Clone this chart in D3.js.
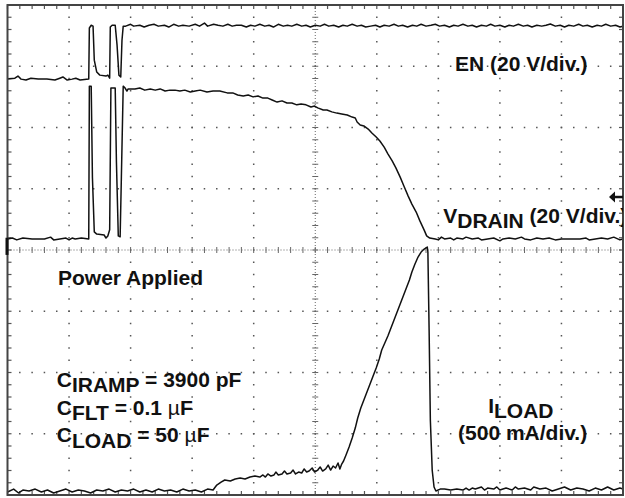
<!DOCTYPE html>
<html>
<head>
<meta charset="utf-8">
<script src="https://cdn.jsdelivr.net/npm/d3@7"></script>
<style>
  body { margin: 0; background: #fff; }
  svg text { font-family: "Liberation Sans", Arial, sans-serif; font-weight: bold; font-size: 21px; fill: #111; }
</style>
</head>
<body>
<div id="chart"></div>
<script>

  // scope traces, time in divisions, values in channel units
  var enTrace = [[0,0],[0.12,0.3],[0.17,1.0],[0.22,0],[0.30,-0.3],[0.38,0.3],[0.50,0],[0.64,0],[0.77,-0.3],
                 [0.85,0.3],[0.90,0.7],[0.97,-0.3],[1.05,0],[1.11,0.3],[1.18,-0.3],[1.32,0],
                 [1.33,16.7],[1.36,17.6],[1.39,17.3],[1.41,6.2],[1.45,2.3],[1.50,1.3],[1.60,1.0],[1.63,1.3],[1.66,0.3],
                 [1.67,17.0],[1.70,17.6],[1.75,17.6],[1.78,11.1],[1.81,1.3],[1.84,0.7],[1.86,12.7],[1.88,17.3],
                 [1.92,17.3],[2.00,17.9],[2.05,17.3],[2.15,17.6],[2.22,17.0],[2.30,17.6],[2.38,17.9],[2.45,17.3],
                 [2.55,17.6],[2.62,17.0],[2.70,17.9],[2.78,17.3],[2.85,17.6],[2.95,17.3],[3.05,17.9],[3.12,17.3],
                 [3.20,18.3],[3.25,17.3],[3.35,17.9],[3.42,17.6],[3.50,17.3],[3.58,17.9],[3.65,17.3],[3.72,17.6],
                 [3.80,17.6],[3.88,17.0],[3.95,17.6],[4.02,17.3],[4.10,17.9],[4.18,17.3],[4.25,17.6],[4.32,17.0],
                 [4.40,17.9],[4.48,17.3],[4.55,17.6],[4.62,17.3],[4.70,17.9],[4.78,17.3],[4.85,17.6],[4.92,17.0],
                 [5.00,17.6],[5.08,17.3],[5.15,17.9],[5.22,17.3],[5.30,17.6],[5.38,17.0],[5.45,17.6],[5.52,17.3],
                 [5.60,17.9],[5.68,17.3],[5.75,17.6],[5.82,17.0],[5.90,17.3],[5.98,17.6],[6.05,17.0],[6.12,17.6],
                 [6.20,17.3],[6.28,17.9],[6.35,17.3],[6.42,17.6],[6.50,17.0],[6.58,17.6],[6.65,17.3],[6.72,17.9],
                 [6.80,17.3],[6.88,17.6],[6.95,17.9],[7.02,17.3],[7.10,17.6],[7.18,17.0],[7.25,17.6],[7.32,17.3],
                 [7.40,17.9],[7.48,17.3],[7.55,17.6],[7.62,17.0],[7.70,17.6],[7.78,17.3],[7.85,17.9],[7.92,17.3],
                 [8.00,17.6],[8.08,17.0],[8.15,17.6],[8.22,17.3],[8.30,17.9],[8.38,17.3],[8.45,17.6],[8.52,17.0],
                 [8.60,17.6],[8.68,17.3],[8.75,17.6],[8.82,18.0],[8.90,17.3],[8.98,17.6],[9.05,17.0],[9.12,17.6],
                 [9.20,17.3],[9.28,17.9],[9.35,17.3],[9.42,17.6],[9.50,17.0],[9.58,17.6],[9.65,17.3],[9.72,17.9],
                 [9.80,17.3],[9.88,17.6],[9.95,17.0],[10,17.3]];

  var drainTrace = [[0,0],[0.08,0.3],[0.15,-0.3],[0.25,0.3],[0.40,0],[0.60,0],[0.70,0.6],[0.75,-0.3],[0.85,0],
                    [0.95,0.3],[1.00,-0.3],[1.05,0.3],[1.10,0],[1.20,0.3],[1.32,0],
                    [1.33,49.9],[1.36,49.9],[1.38,20],[1.41,2.3],[1.45,1.6],[1.57,1.3],[1.60,0.3],[1.63,1.0],
                    [1.66,3],[1.68,49.3],[1.75,49.3],[1.77,25],[1.80,1.0],[1.83,0.7],[1.85,20],[1.88,49.9],
                    [1.91,49.3],[1.94,48.3],[1.96,49.0],[2.07,49.0],[2.15,49.3],[2.23,48.6],[2.32,49.0],[2.40,48.6],
                    [2.48,49.0],[2.56,48.3],[2.64,48.6],[2.72,48.6],[2.80,48.3],[2.88,48.6],[2.97,48.0],[3.05,48.3],
                    [3.13,48.6],[3.24,48.0],[3.34,48.3],[3.45,48.3],[3.57,47.7],[3.66,47.7],[3.74,47.0],[3.83,46.7],
                    [3.91,47.0],[3.99,46.4],[4.07,46.7],[4.15,46.0],[4.23,46.0],[4.30,45.4],[4.38,44.7],[4.46,45.1],
                    [4.54,44.4],[4.62,44.4],[4.70,43.8],[4.77,44.1],[4.85,43.8],[4.93,43.1],[4.99,43.4],[5.04,42.8],
                    [5.13,42.1],[5.19,42.1],[5.27,41.5],[5.35,41.1],[5.43,40.8],[5.52,40.5],[5.60,39.8],[5.65,39.5],
                    [5.68,38.2],[5.73,37.2],[5.79,36.9],[5.86,35.9],[5.92,34.6],[5.99,33.3],[6.05,32.0],[6.12,30.0],
                    [6.18,27.8],[6.25,25.5],[6.31,23.2],[6.38,20.2],[6.44,17.3],[6.51,14.0],[6.57,11.4],[6.64,8.8],
                    [6.70,5.9],[6.77,2.9],[6.81,1.0],[6.86,0.3],[6.95,0],[7.00,-0.3],[7.05,0.6],[7.10,0],[7.20,0.3],
                    [7.25,-0.3],[7.30,0.3],[7.40,0],[7.45,0.6],[7.55,0],[7.65,0.3],[7.70,-0.3],[7.80,0],[7.90,0.3],
                    [8.00,-0.6],[8.05,0],[8.15,0.3],[8.25,0],[8.35,0.6],[8.40,0],[8.50,-0.3],[8.60,0.3],[8.70,0],
                    [8.80,0.3],[8.90,-0.3],[9.00,0],[9.15,0],[9.30,0],[9.40,0.3],[9.45,-0.3],[9.55,0],[9.65,0.3],
                    [9.75,0],[9.85,0.6],[9.95,-0.3],[10,0]];

  var loadTrace = [[0,-8],[0.10,16],[0.18,-16],[0.25,8],[0.35,0],[0.45,16],[0.55,-8],[0.65,8],[0.75,-16],
                   [0.85,0],[0.95,16],[1.05,-8],[1.15,8],[1.25,0],[1.35,-16],[1.45,8],[1.55,0],[1.65,16],
                   [1.75,-8],[1.85,8],[1.95,0],[2.05,16],[2.15,-8],[2.25,8],[2.35,-8],[2.45,16],[2.55,0],
                   [2.65,8],[2.75,-8],[2.85,16],[2.95,0],[3.05,8],[3.15,-8],[3.25,16],[3.34,8],
                   [3.40,49],[3.47,73],[3.53,90],[3.62,82],[3.70,98],[3.78,106],[3.86,98],[3.94,114],[4.02,122],
                   [4.10,114],[4.15,131],[4.19,114],[4.23,139],[4.28,122],[4.33,131],[4.36,155],[4.40,131],
                   [4.46,139],[4.50,163],[4.54,139],[4.60,147],[4.64,171],[4.68,139],[4.73,155],[4.78,147],
                   [4.82,180],[4.86,155],[4.90,163],[4.95,188],[4.99,155],[5.04,171],[5.08,196],[5.12,163],
                   [5.17,180],[5.21,212],[5.25,171],[5.29,204],[5.33,188],[5.37,229],[5.40,180],[5.43,220],
                   [5.46,245],[5.50,294],
                   [5.55,359],[5.60,433],[5.65,514],[5.69,596],[5.74,678],[5.79,743],[5.84,808],[5.89,873],
                   [5.94,939],[5.99,1004],[6.04,1078],[6.08,1151],[6.13,1208],[6.18,1265],[6.23,1331],[6.28,1396],
                   [6.33,1461],[6.38,1527],[6.43,1592],[6.48,1657],[6.53,1722],[6.57,1788],[6.62,1853],[6.67,1910],
                   [6.72,1951],[6.77,1975],[6.82,1992],[6.83,1951],[6.85,1314],[6.87,580],[6.90,171],[6.93,33],
                   [6.96,0],[7.03,16],[7.10,16],[7.20,8],[7.30,16],[7.40,8],[7.45,24],[7.50,8],[7.55,24],[7.60,16],
                   [7.70,33],[7.75,8],[7.80,24],[7.90,16],[7.95,33],[8.00,8],[8.10,24],[8.20,8],[8.25,33],[8.30,16],
                   [8.40,24],[8.50,8],[8.55,33],[8.65,16],[8.75,24],[8.85,0],[8.95,16],[9.05,33],[9.15,8],[9.25,24],
                   [9.35,16],[9.45,0],[9.55,24],[9.65,8],[9.75,33],[9.85,8],[9.95,24],[10,16]];

  // channel settings: ground position (div) and units per division
  var channelOffsets = [2.79, 0.18, -3.935];
  var channelScales = [20, 20, 500];

  var width = 625, height = 498;
  var x = d3.scaleLinear().domain([0, 10]).range([7.5, 623]);
  var y = d3.scaleLinear().domain([-4, 4]).range([495, 5]);

  var svg = d3.select("#chart").append("svg")
      .attr("width", width)
      .attr("height", height);

  svg.append("clipPath").attr("id", "screen")
    .append("rect")
      .attr("x", x(0)).attr("y", y(4))
      .attr("width", x(10) - x(0)).attr("height", y(-4) - y(4));

  var xMinor = d3.range(0, 50.5).map(i => i / 5),
      yMinor = d3.range(-20, 20.5).map(i => i / 5);

  // dotted grid
  var grid = svg.append("g").attr("fill", "#555");
  [1, 2, 3, 4, 6, 7, 8, 9].forEach(function(k) {
    grid.selectAll(null).data(yMinor.slice(1, -1)).enter().append("rect")
        .attr("x", x(k) - 0.75).attr("y", d => y(d) - 0.75)
        .attr("width", 1.5).attr("height", 1.5);
  });
  [-3, -2, -1, 1, 2, 3].forEach(function(k) {
    grid.selectAll(null).data(xMinor.slice(1, -1)).enter().append("rect")
        .attr("x", d => x(d) - 0.75).attr("y", y(k) - 0.75)
        .attr("width", 1.5).attr("height", 1.5);
  });

  // centre axes
  var axes = svg.append("g").attr("stroke", "#666").attr("stroke-width", 1);
  axes.append("line").attr("x1", x(0)).attr("x2", x(10)).attr("y1", y(0)).attr("y2", y(0))
      .attr("stroke-dasharray", "1,2");
  axes.append("line").attr("x1", x(5)).attr("x2", x(5)).attr("y1", y(4)).attr("y2", y(-4))
      .attr("stroke-dasharray", "1,2");
  axes.selectAll(null).data(xMinor).enter().append("line")
      .attr("x1", d => x(d)).attr("x2", d => x(d))
      .attr("y1", y(0) - 3).attr("y2", y(0) + 3);
  axes.selectAll(null).data(yMinor).enter().append("line")
      .attr("y1", d => y(d)).attr("y2", d => y(d))
      .attr("x1", x(5) - 3).attr("x2", x(5) + 3);

  // border ticks
  var ticks = svg.append("g").attr("stroke", "#555").attr("stroke-width", 1.2);
  ticks.selectAll(null).data(xMinor).enter().append("line")
      .attr("x1", d => x(d)).attr("x2", d => x(d)).attr("y1", y(4)).attr("y2", y(4) + 4);
  ticks.selectAll(null).data(xMinor).enter().append("line")
      .attr("x1", d => x(d)).attr("x2", d => x(d)).attr("y1", y(-4)).attr("y2", y(-4) - 4);
  ticks.selectAll(null).data(yMinor).enter().append("line")
      .attr("y1", d => y(d)).attr("y2", d => y(d)).attr("x1", x(0)).attr("x2", x(0) + 4);
  ticks.selectAll(null).data(yMinor).enter().append("line")
      .attr("y1", d => y(d)).attr("y2", d => y(d)).attr("x1", x(10)).attr("x2", x(10) - 4);

  // traces
  var traces = [enTrace, drainTrace, loadTrace];
  var plot = svg.append("g").attr("clip-path", "url(#screen)");
  traces.forEach(function(trace, i) {
    var line = d3.line()
        .x(d => x(d[0]))
        .y(d => y(channelOffsets[i] + d[1] / channelScales[i]));
    plot.append("path")
        .attr("d", line(trace))
        .attr("fill", "none")
        .attr("stroke", "#111")
        .attr("stroke-width", 1.5)
        .attr("stroke-linejoin", "round");
  });

  // frame
  svg.append("rect")
      .attr("x", x(0)).attr("y", y(4))
      .attr("width", x(10) - x(0)).attr("height", y(-4) - y(4))
      .attr("fill", "none").attr("stroke", "#444").attr("stroke-width", 2);

  // channel markers
  svg.append("rect")
      .attr("x", x(0) - 2).attr("y", y(0.2)).attr("width", 3).attr("height", y(-0.08) - y(0.2))
      .attr("fill", "#111");
  var ay = y(0.865);
  svg.append("path")
      .attr("d", "M" + (x(10) - 14) + "," + ay + "l6,-5.5v11z")
      .attr("fill", "#111");
  svg.append("line")
      .attr("x1", x(10) - 9).attr("x2", x(10)).attr("y1", ay).attr("y2", ay)
      .attr("stroke", "#111").attr("stroke-width", 2.5);

  // labels
  var labels = svg.append("g").attr("clip-path", "url(#screen)");

  function label(tx, ty, parts) {
    var t = labels.append("text").attr("x", x(tx)).attr("y", y(ty));
    parts.forEach(function(p) {
      var s = t.append("tspan").text(p.text);
      if (p.dy) s.attr("dy", p.dy);
      if (p.light) s.style("font-weight", "normal");
    });
  }

  label(7.27, 2.92, [{text: "EN (20 V/div.)"}]);
  label(7.08, 0.44, [{text: "V"}, {text: "DRAIN", dy: 5}, {text: " (20 V/div.)", dy: -5}]);
  label(0.82, -0.57, [{text: "Power Applied"}]);
  label(0.80, -2.24, [{text: "C"}, {text: "IRAMP", dy: 5}, {text: " = 3900 pF", dy: -5}]);
  label(0.80, -2.69, [{text: "C"}, {text: "FLT", dy: 5}, {text: " = 0.1 ", dy: -5}, {text: "µ", light: true}, {text: "F"}]);
  label(0.80, -3.13, [{text: "C"}, {text: "LOAD", dy: 6}, {text: " = 50 ", dy: -6}, {text: "µ", light: true}, {text: "F"}]);
  label(7.81, -2.66, [{text: "I"}, {text: "LOAD", dy: 5}]);
  label(7.32, -3.10, [{text: "(500 mA/div.)"}]);

</script>
</body>
</html>
